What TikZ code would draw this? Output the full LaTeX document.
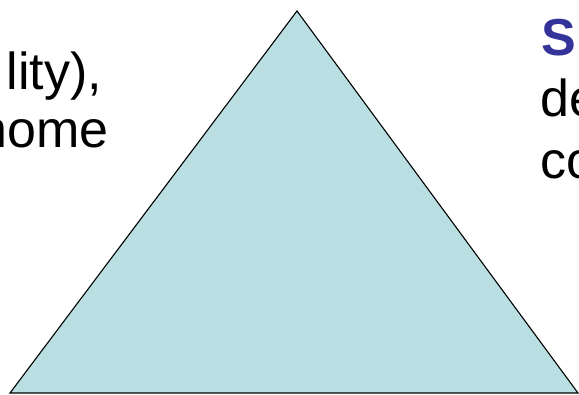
\documentclass[tikz,border=0pt]{standalone}
\usepackage{fontspec}
\setsansfont{Liberation Sans}
\usepackage{tikz}
\usetikzlibrary{positioning}
\definecolor{pyrfill}{RGB}{185,223,226}
\definecolor{headblue}{RGB}{51,51,153}
\tikzset{txt/.style={font=\sffamily\fontsize{52}{60}\selectfont,inner sep=0pt},
  head/.style={txt,font=\sffamily\bfseries\fontsize{52}{60}\selectfont,text=headblue},
  pyr/.style={draw=black,line width=1.1pt,fill=pyrfill,line join=miter}}
\begin{document}
\begin{tikzpicture}[x=1pt,y=-1pt]
\useasboundingbox (0,0) rectangle (579,395);
\clip (0,0) rectangle (579,395);
% the pyramid
\coordinate (apex) at (297,11);
\coordinate (bl) at (10,393);
\coordinate (br) at (578,393);
\draw[pyr] (apex)--(bl)--(br)--cycle;
% left text, cut by the frame
\node[txt,anchor=base east] (l1) at (102,90) {lity),};
\node[txt,anchor=base east] (l2) at (109,148) {home};
% right text, cut by the frame
\node[head,anchor=base west] (r1) at (541,56) {S};
\node[txt,anchor=base west] (r2) at (540,117) {de};
\node[txt,anchor=base west] (r3) at (540,179) {co};
\end{tikzpicture}
\end{document}
